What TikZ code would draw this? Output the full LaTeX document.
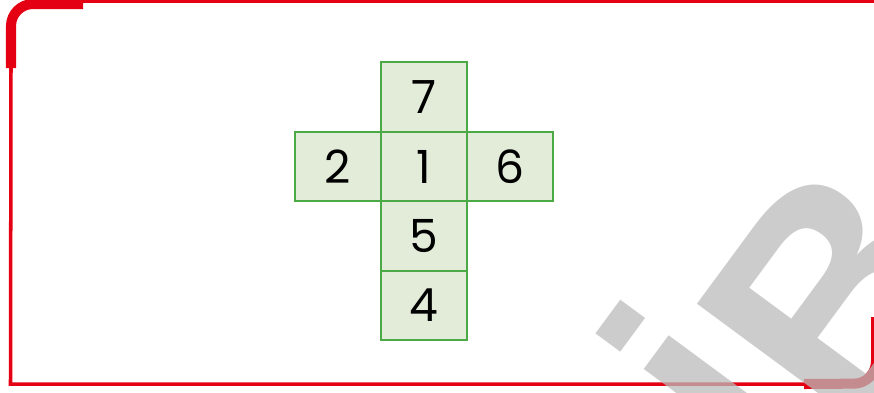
\documentclass[tikz,border=0pt]{standalone}
\usepackage{fontspec}
\setmainfont{Poppins}
\newfontfamily\logofont{Liberation Sans}
\usetikzlibrary{positioning}
\definecolor{framered}{RGB}{228,0,18}
\definecolor{netgreen}{RGB}{76,170,70}
\definecolor{netfill}{RGB}{226,236,217}
\definecolor{logogrey}{RGB}{187,187,187}
\tikzset{
    netcell/.style={draw=netgreen, fill=netfill, line width=1.1pt,
        minimum width=1.72cm, minimum height=1.39cm,
        inner sep=0pt, outer sep=0pt, font=\fontsize{26}{26}\selectfont},
    thinframe/.style={draw=framered, line width=2pt},
    thickframe/.style={draw=framered, line width=5.7pt, rounded corners=0.44cm},
    wmark/.style={text=logogrey, opacity=0.75, inner sep=0pt,
        font=\logofont\bfseries\fontsize{174}{174}\selectfont}
}
\begin{document}
\begin{tikzpicture}[x=0.02cm, y=-0.02cm, node distance=0pt]
        \useasboundingbox (0,0) rectangle (874,392);
        % frame
            \coordinate (tl) at (11,68);
            \coordinate (br) at (804,384);
            \draw[thinframe] (83,1.7) -- (890,1.7);
            \draw[thinframe] (tl) -- (10.5,384) -- (br);
            \draw[thickframe] (tl) -- (11,4) -- (83,4);
            \draw[thickframe] (br) -- (876,383.5) -- (876,317);
        % net
            \node[netcell] (c1) at (424,166.5) {1};
            \node[netcell, above=of c1] (c7) {7};
            \node[netcell, left=of c1] (c2) {2};
            \node[netcell, right=of c1] (c6) {6};
            \node[netcell, below=of c1] (c5) {5};
            \node[netcell, below=of c5] (c4) {4};
        % watermark
            \node[wmark, rotate=53.6, anchor=base west] (logo) at (803.6,513.8) {\raisebox{1.04cm}{i}B};
        \end{tikzpicture}
\end{document}
